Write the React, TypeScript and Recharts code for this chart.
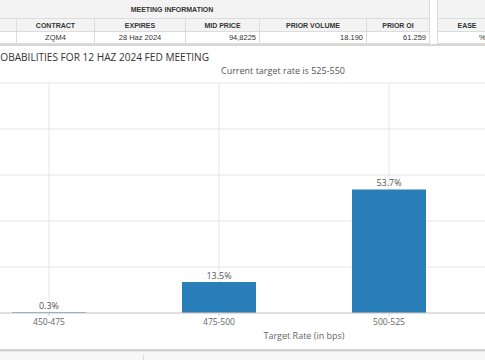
import React from 'react';
import { BarChart, Bar, XAxis, YAxis, CartesianGrid, LabelList } from 'recharts';

const rates = ['450-475', '475-500', '500-525'];
const probabilities = [0.3, 13.5, 53.7];
const yTicks = [0, 20, 40, 60, 80, 100];

const headers = ['CONTRACT', 'EXPIRES', 'MID PRICE', 'PRIOR VOLUME', 'PRIOR OI'];
const rowValues = ['ZQM4', '28 Haz 2024', '94,8225', '18.190', '61.259'];

const data = rates.map((name, i) => ({ name, value: probabilities[i] }));

const tableFont = '"Liberation Sans", Arial, sans-serif';
const chartFont = '"Open Sans", sans-serif';

// column edges of the meeting info table (only the visible part)
const cols = [
  { left: 17, width: 78, align: 'center' },
  { left: 95, width: 91, align: 'center' },
  { left: 186, width: 74, align: 'right' },
  { left: 260, width: 107, align: 'right' },
  { left: 367, width: 63, align: 'right' },
];

const cell = (left: number, top: number, width: number, height: number, extra: React.CSSProperties = {}) => ({
  position: 'absolute' as const,
  left,
  top,
  width,
  height,
  boxSizing: 'border-box' as const,
  borderRight: '1px solid #dcdcdc',
  borderBottom: '1px solid #dcdcdc',
  lineHeight: `${height}px`,
  fontFamily: tableFont,
  fontSize: 7.5,
  color: '#333',
  whiteSpace: 'nowrap' as const,
  overflow: 'hidden',
  ...extra,
});

const App = () => {
  return (
    <div style={{ position: 'absolute', left: 0, top: 0, width: 485, height: 360, overflow: 'hidden', background: '#fff' }}>
      {/* meeting information table */}
      <div style={cell(-10, 0, 440, 19, { background: '#f3f3f3', textAlign: 'center', fontWeight: 'bold', fontSize: 7 })}>
        <span style={{ position: 'absolute', left: 182, transform: 'translateX(-50%)' }}>MEETING INFORMATION</span>
      </div>
      <div style={cell(-10, 19, 27, 13, { background: '#f3f3f3' })} />
      <div style={cell(-10, 32, 27, 12)} />
      {cols.map((c, i) => (
        <div key={headers[i]} style={cell(c.left, 19, c.width, 13, { background: '#f3f3f3', textAlign: 'center', fontWeight: 'bold', fontSize: 7 })}>
          {headers[i]}
        </div>
      ))}
      {cols.map((c, i) => (
        <div key={rowValues[i]} style={cell(c.left, 32, c.width, 12, { textAlign: c.align as 'center' | 'right', paddingRight: c.align === 'right' ? 3 : 0 })}>
          {rowValues[i]}
        </div>
      ))}
      <div style={cell(437, 0, 60, 19, { background: '#f3f3f3', borderLeft: '1px solid #dcdcdc' })} />
      <div style={cell(437, 19, 60, 13, { background: '#f3f3f3', borderLeft: '1px solid #dcdcdc', textAlign: 'center', fontWeight: 'bold', fontSize: 7 })}>
        EASE
      </div>
      <div style={cell(437, 32, 60, 12, { borderLeft: '1px solid #dcdcdc' })}>
        <span style={{ position: 'absolute', left: 41 }}>%0,0</span>
      </div>
      <div style={{ position: 'absolute', left: 0, top: 44, width: 485, height: 2, background: '#d6d6d6' }} />

      {/* titles */}
      <div style={{ position: 'absolute', right: 276, top: 49, whiteSpace: 'nowrap', fontFamily: chartFont, fontSize: 10.1, color: '#333', lineHeight: '16px' }}>
        TARGET RATE PROBABILITIES FOR 12 HAZ 2024 FED MEETING
      </div>
      <div style={{ position: 'absolute', left: 283, top: 64, transform: 'translateX(-50%)', whiteSpace: 'nowrap', fontFamily: chartFont, fontSize: 9, color: '#555', lineHeight: '14px' }}>
        Current target rate is 525-550
      </div>

      {/* chart */}
      <div style={{ position: 'absolute', left: -36, top: 80 }}>
        <BarChart width={680} height={265} data={data} margin={{ top: 3, right: 0, bottom: 0, left: 0 }} style={{ fontFamily: chartFont }}>
          <CartesianGrid stroke="#e6e6e6" />
          <XAxis
            dataKey="name"
            padding={{ left: 0, right: 170 }}
            height={32}
            stroke="#cccccc"
            tickSize={3}
            tickMargin={3}
            tick={{ fontSize: 8.5, fill: '#666' }}
            label={{ value: 'Target Rate (in bps)', position: 'insideBottom', offset: 6, fontSize: 9, fill: '#666' }}
          />
          <YAxis hide domain={[0, 100]} ticks={yTicks} />
          <Bar dataKey="value" fill="#2a7eb7" barSize={74} isAnimationActive={false}>
            <LabelList dataKey="value" position="top" offset={3} formatter={(v: number) => `${v}%`} style={{ fontSize: 9, fill: '#555' }} />
          </Bar>
        </BarChart>
      </div>

      {/* bottom panel */}
      <div style={{ position: 'absolute', left: 0, top: 349, width: 485, height: 2, background: '#d2d2d2' }} />
      <div style={{ position: 'absolute', left: 0, top: 351, width: 485, height: 9, background: '#f7f7f7', borderTop: '1px solid #e6e6e6', boxSizing: 'border-box' }} />
      <div style={{ position: 'absolute', left: 143, top: 355, width: 1, height: 5, background: '#dcdcdc' }} />
    </div>
  );
};

export default App;
